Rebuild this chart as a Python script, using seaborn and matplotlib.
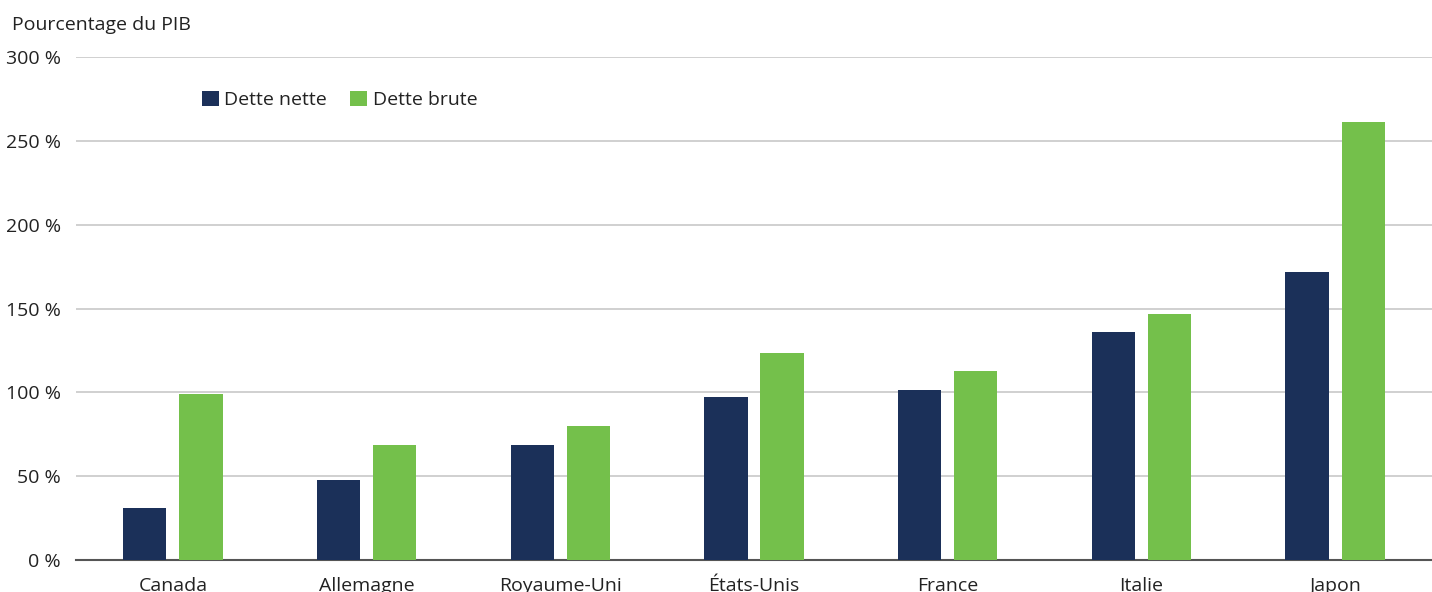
import pandas as pd
import numpy as np
import matplotlib
matplotlib.use("Agg")
import matplotlib.pyplot as plt
import seaborn as sns

#### Data (percentage of GDP)
pays = ["Canada", "Allemagne", "Royaume-Uni", "États-Unis", "France", "Italie", "Japon"]
dette_nette = [31, 48, 68.5, 97, 101.5, 136, 172]
dette_brute = [99, 68.5, 80, 123.5, 112.5, 147, 261]
series = ["Dette nette", "Dette brute"]
couleurs = ["#1b3059", "#74c04b"]
yticks = [0, 50, 100, 150, 200, 250, 300]

df = pd.DataFrame({
    "pays": pays * 2,
    "serie": [series[0]] * len(pays) + [series[1]] * len(pays),
    "valeur": dette_nette + dette_brute,
})

#### Plot
sns.set_theme(style="white")
plt.rcParams["font.family"] = ["Open Sans", "DejaVu Sans"]

fig = plt.figure(figsize=(14.32, 5.92), dpi=100)
ax = fig.add_axes([76 / 1432, 32 / 592, 1356 / 1432, 503 / 592])

sns.barplot(data=df, x="pays", y="valeur", hue="serie", palette=couleurs,
            width=0.58, gap=0.23, ax=ax, saturation=1, errorbar=None,
            linewidth=0, edgecolor="none", zorder=3)

ax.set_ylim(0, 300)
ax.set_xlim(-0.5, len(pays) - 0.5)
ax.set_yticks(yticks)
ax.set_yticklabels([f"{v} %" for v in yticks])
ax.yaxis.grid(True, color="#c8c8c8", linewidth=1.2, zorder=0)
ax.set_axisbelow(True)
ax.set_xlabel("")
ax.set_ylabel("")

for side in ["top", "right", "left"]:
    ax.spines[side].set_visible(False)
ax.spines["bottom"].set_color("#555555")
ax.spines["bottom"].set_linewidth(1.5)

ax.tick_params(axis="y", length=0, pad=11, labelsize=14, labelcolor="#222222")
ax.tick_params(axis="x", length=0, pad=12, labelsize=14, labelcolor="#222222")

fig.text(12 / 1432, 1 - 25 / 592, "Pourcentage du PIB", fontsize=14,
         color="#222222", va="center", ha="left")

ax.legend(loc="center left", bbox_to_anchor=(0.08, 0.915), ncol=2, frameon=False,
          fontsize=14, handlelength=0.85, handleheight=0.85, handletextpad=0.3,
          columnspacing=1.2, labelcolor="#222222")

fig.savefig("out.png", dpi=100)
